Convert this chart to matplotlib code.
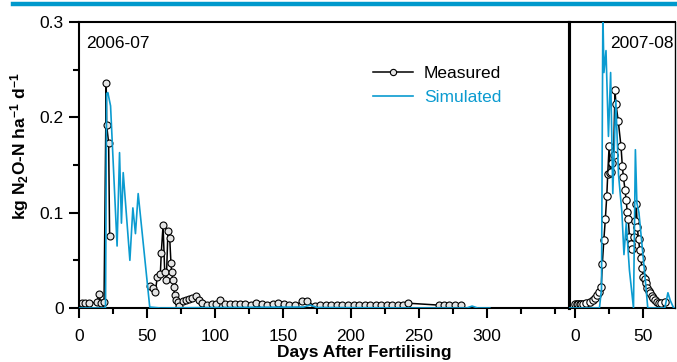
import numpy as np
import matplotlib
matplotlib.use('Agg')
import matplotlib.pyplot as plt
from matplotlib.lines import Line2D

plt.rcParams['font.family'] = ['Liberation Sans', 'DejaVu Sans']
plt.rcParams['mathtext.default'] = 'regular'

BLUE = '#0b9bd0'
nan = np.nan

# 2006-07 season
meas_days1 = [0.5, 2, 4.4, 7.3, 13.4, 14.6, 16, 18.4, 20.0, 20.3, 21.8, 22.5, nan,
              52.5, 54.2, 56.1, 57.6, 59.8, 60.5, 61.8, 63.0, 64.2, 65.4, 66.7, 67.6, 68.1,
              69.1, 69.6, 70.3, 71.6, 72.7, 73.5, 76.4, 78.9, 81, 83, 86, 88, 90.5, 94,
              97.7, 100.6, 103.8, 107, 111, 114.7, 118, 122, 126.3, 130.3, 134.3, 138.5,
              142.4, 146.5, 150.7, 154.6, 158.8, 164.3, 167.7, 173.4, 177.5, 181.4, 185.6,
              189.7, 193.6, 197.8, 201.9, 205.9, 210, 214.1, 218.1, 222.2, 226.4, 230.3,
              234.4, 238, 242.2, 265, 268.6, 272.3, 276.4, 280.8]
meas_vals1 = [0.002, 0.005, 0.005, 0.005, 0.006, 0.015, 0.005, 0.006, 0.236, 0.192, 0.173, 0.076, nan,
              0.023, 0.021, 0.017, 0.033, 0.036, 0.058, 0.087, 0.038, 0.029, 0.081, 0.073, 0.047, 0.038,
              0.029, 0.022, 0.014, 0.008, 0.006, 0.002, 0.007, 0.008, 0.009, 0.010, 0.013, 0.008, 0.005, 0.003,
              0.004, 0.004, 0.008, 0.004, 0.004, 0.004, 0.004, 0.004, 0.003, 0.005, 0.004, 0.003,
              0.004, 0.005, 0.004, 0.003, 0.003, 0.007, 0.007, 0.002, 0.003, 0.003, 0.003,
              0.003, 0.003, 0.003, 0.003, 0.003, 0.003, 0.003, 0.003, 0.003, 0.003, 0.003,
              0.003, 0.003, 0.005, 0.003, 0.003, 0.003, 0.003, 0.003]

sim_days1 = [0, 19.5, 20.3, 21.2, 23.2, 28, 29.8, 31.2, 32.5, 37.4, 39.6, 41.5, 43.5,
             52, 60, 100, 165, 170, 175, 250, 285, 289, 293, 302]
sim_vals1 = [0, 0, 0.225, 0.226, 0.212, 0.065, 0.163, 0.089, 0.142, 0.05, 0.105, 0.078, 0.12,
             0.001, 0.0, 0.0005, 0.001, 0.003, 0.0005, 0.0, 0.0, 0.002, 0, 0]

# 2007-08 season
meas_days2 = [0, 1.2, 2.4, 3.6, 4.8, 6, 8, 10.8, 13.2, 15, 16.4, 17.8, 19.3, 20.1, 21.2,
              22.3, 23.4, 24.1, 25.1, 25.9, 26.6, 27.4, 28.4, 29.4, 30.1, 31.8, 33.8, 34.8,
              35.6, 36.8, 37.6, 38.4, 39.2, 40.0, 40.9, 41.8, 43.4, 44.3, 45.0, 45.8, 46.7,
              47.6, 48.4, 49.2, 50.2, 51.2, 52.2, 53.2, 54.2, 55.2, 56.3, 57.5, 58.8, 60.2,
              61.8, 63.5, 66.2]
meas_vals2 = [0.004, 0.004, 0.004, 0.004, 0.004, 0.004, 0.005, 0.006, 0.008, 0.010, 0.014, 0.017,
              0.022, 0.046, 0.071, 0.093, 0.118, 0.141, 0.170, 0.142, 0.143, 0.152, 0.160, 0.229,
              0.214, 0.196, 0.170, 0.149, 0.137, 0.124, 0.113, 0.101, 0.093, 0.075, 0.067, 0.062,
              0.075, 0.091, 0.109, 0.085, 0.072, 0.061, 0.052, 0.042, 0.033, 0.030, 0.026, 0.021,
              0.018, 0.016, 0.013, 0.010, 0.008, 0.006, 0.005, 0.005, 0.006]

sim_days2 = [-5, 18, 19.5, 20.5, 21.3, 22.8, 24.6, 26.2, 27.8, 30.0, 32.0, 34.5, 36.0, 37.7,
             40.0, 43.0, 44.4, 45.5, 47.0, 49.0, 51.0, 53.5, 66, 68.3, 70, 72.5, 75]
sim_vals2 = [0, 0, 0.02, 0.31, 0.247, 0.27, 0.18, 0.247, 0.12, 0.218, 0.14, 0.1, 0.056, 0.089,
             0.04, 0.0, 0.166, 0.11, 0.1, 0.07, 0.04, 0.0, 0, 0.016, 0.008, 0, 0]

fig = plt.figure(figsize=(6.77, 3.62), dpi=100)
y0, y1 = 1 - 308 / 362, 1 - 22 / 362
xl, xm, xr = 79 / 677, 568.7 / 677, 675 / 677
ax1 = fig.add_axes([xl, y0, xm - xl, y1 - y0])
ax2 = fig.add_axes([xm, y0, xr - xm, y1 - y0], sharey=ax1)
ax2.patch.set_visible(False)

# top blue bar
fig.add_artist(Line2D([13 / 677, 1], [1 - 4 / 362] * 2, color='#0099cc', lw=3.2))

ax1.plot(meas_days1, meas_vals1, color='black', lw=1.1, marker='o', ms=5,
         mfc='#e4e4e4', mec='black', mew=0.8, zorder=2)
ax1.plot(sim_days1, sim_vals1, color=BLUE, lw=1.2, zorder=3)
ax2.plot(meas_days2, meas_vals2, color='black', lw=1.1, marker='o', ms=5.3,
         mfc='white', mec='black', mew=0.8, zorder=2)
ax2.plot(sim_days2, sim_vals2, color=BLUE, lw=1.2, zorder=3)

ax1.set_xlim(0, 360)
ax2.set_xlim(-4.6, 73.5)
ax1.set_ylim(0, 0.3)

ax1.set_yticks([0, 0.1, 0.2, 0.3])
ax1.set_yticklabels(['0', '0.1', '0.2', '0.3'])
ax1.set_yticks([0.05, 0.15, 0.25], minor=True)
ax1.set_xticks([0, 50, 100, 150, 200, 250, 300])
ax1.set_xticks([25, 75, 125, 175, 225, 275, 325, 350], minor=True)
ax2.set_xticks([0, 50])
ax2.set_xticks([25], minor=True)

for ax in (ax1, ax2):
    for s in ax.spines.values():
        s.set_linewidth(1.5)
    ax.tick_params(which='major', direction='out', length=7, width=1.5, labelsize=12.5, pad=4)
    ax.tick_params(which='minor', direction='out', length=4.5, width=1.5)
    ax.tick_params(axis='x', pad=8)
ax1.spines['right'].set_linewidth(2.2)
ax2.spines['left'].set_linewidth(2.2)
ax2.spines['right'].set_linewidth(1.0)
ax2.tick_params(axis='y', which='both', left=False, labelleft=False)

ax1.text(0.014, 0.952, '2006-07', transform=ax1.transAxes, fontsize=12.5, va='top', ha='left')
ax2.text(0.985, 0.952, '2007-08', transform=ax2.transAxes, fontsize=12.5, va='top', ha='right')

handles = [Line2D([], [], color='black', lw=1.1, marker='o', ms=4.5, mfc='#e4e4e4', mec='black', mew=0.8),
           Line2D([], [], color=BLUE, lw=1.2)]
ax1.legend(handles, ['Measured', 'Simulated'], loc='upper left', bbox_to_anchor=(0.6, 0.848),
           frameon=False, fontsize=12.5, handlelength=2.3, handletextpad=0.65,
           labelspacing=0.55, borderpad=0, borderaxespad=0, labelcolor=['black', BLUE])

fig.text(20 / 677, 1 - 146 / 362, r'kg N$_2$O-N ha$^{-1}$ d$^{-1}$', rotation=90,
         fontsize=12.5, fontweight='bold', ha='center', va='center')
fig.text(364 / 677, 4.5 / 362, 'Days After Fertilising', fontsize=12.5, fontweight='bold',
         ha='center', va='baseline')

fig.savefig('out.png', dpi=100)
